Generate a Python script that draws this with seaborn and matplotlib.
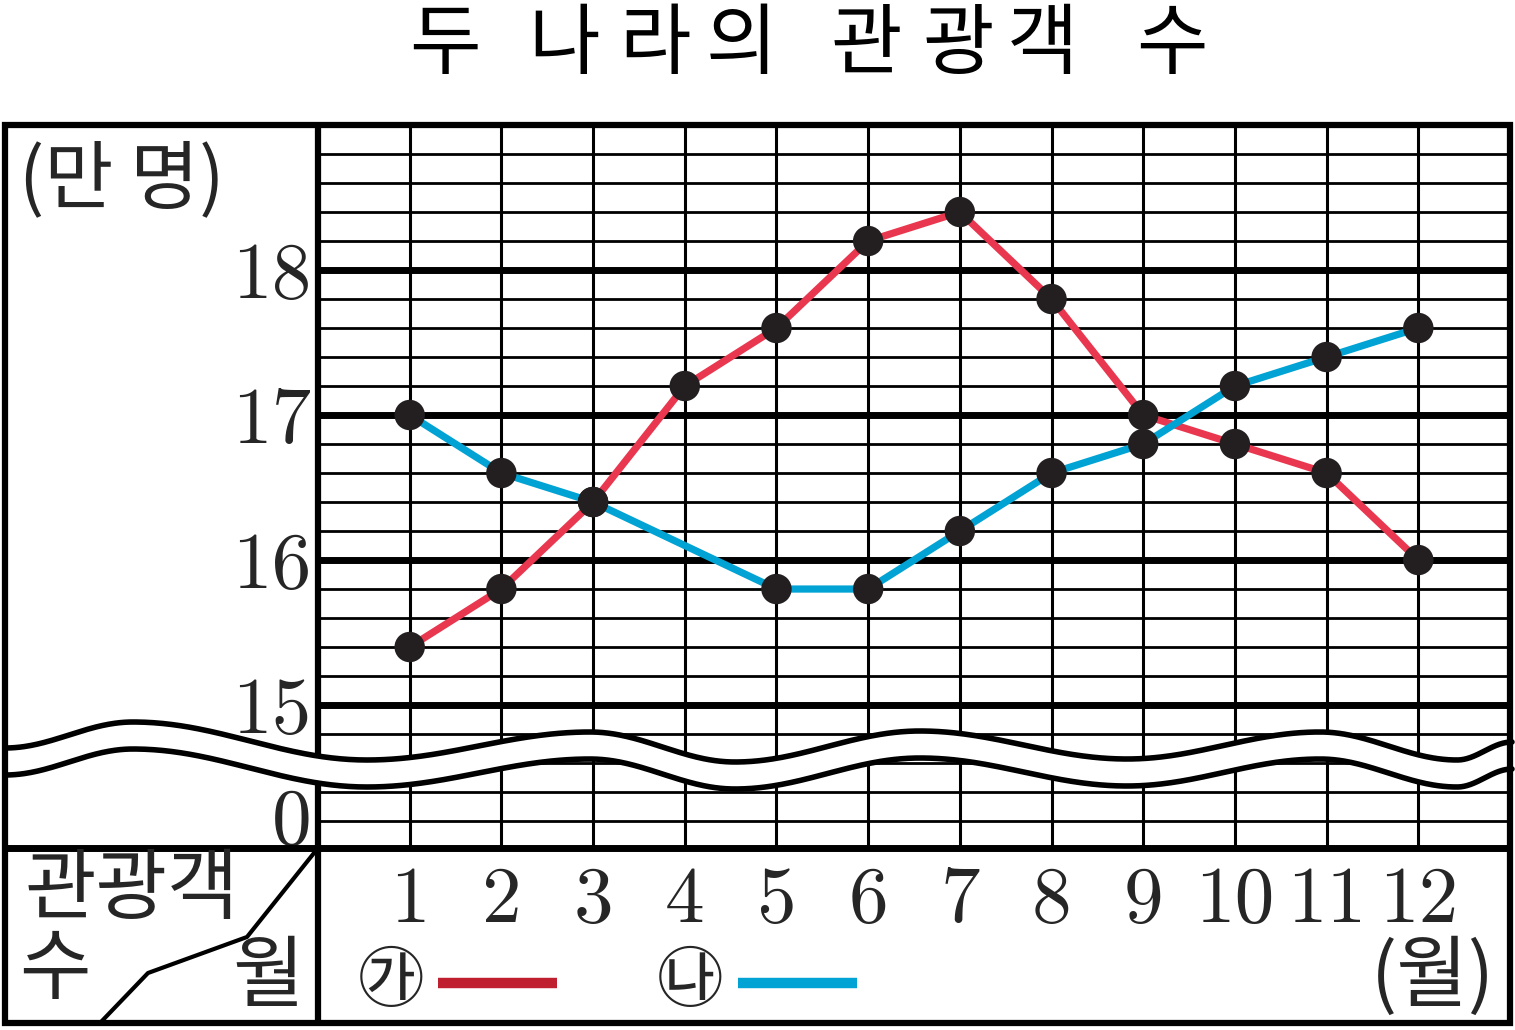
import numpy as np
import pandas as pd
import matplotlib
matplotlib.use("Agg")
import matplotlib.pyplot as plt
import seaborn as sns

# ---------------- data ----------------
title_chars = ["두", "나", "라", "의", "관", "광", "객", "수"]
months = [1, 2, 3, 4, 5, 6, 7, 8, 9, 10, 11, 12]
month_labels = ["1", "2", "3", "4", "5", "6", "7", "8", "9", "10", "11", "12"]
series_ga = [15.4, 15.8, 16.4, 17.2, 17.6, 18.2, 18.4, 17.8, 17.0, 16.8, 16.6, 16.0]
series_na = [17.0, 16.6, 16.4, np.nan, 15.8, 15.8, 16.2, 16.6, 16.8, 17.2, 17.4, 17.6]
series_names = ["가", "나"]
legend_marks = ["㉮", "㉯"]
ytick_values = [14.235, 15, 16, 17, 18]
ytick_labels = ["0", "15", "16", "17", "18"]
unit_label = "(만 명)"
x_unit_label = "(월)"
corner_top = "관광객"
corner_left = "수"
corner_right = "월"

RED = "#E8374F"
BLUE = "#00A3D3"
LEG_RED = "#C01F2F"
LEG_BLUE = "#00A3D3"
DOT = "#231F20"

sns.set_theme(style="white")
plt.rcParams["font.family"] = ["Noto Sans CJK KR", "DejaVu Sans"]

W, H = 1515, 1030
fig = plt.figure(figsize=(W / 100, H / 100), dpi=100)
fig.patch.set_facecolor("white")

# plot area in pixels
L, R, T, B = 318, 1510, 125, 847
ax = fig.add_axes([L / W, 1 - B / H, (R - L) / W, (B - T) / H])
ax.set_xlim(0, 13)
ax.set_ylim(14.021, 19.0)
ax.set_facecolor("white")
for s in ax.spines.values():
    s.set_visible(False)

# grid
for v in np.arange(14.2, 18.95, 0.2):
    rv = round(v)
    thick = abs(v - rv) < 1e-6 and 15 <= rv <= 18
    ax.axhline(v, color="black", lw=5.0 if thick else 2.0, zorder=1)
for m in months:
    ax.axvline(m, color="black", lw=2.2, zorder=1)

df = pd.DataFrame({
    "month": months * 2,
    "value": series_ga + series_na,
    "country": [series_names[0]] * 12 + [series_names[1]] * 12,
}).dropna()

sns.lineplot(data=df, x="month", y="value", hue="country",
             hue_order=series_names,
             palette={series_names[0]: RED, series_names[1]: BLUE},
             lw=5.2, legend=False, ax=ax, zorder=3, estimator=None)
sns.scatterplot(data=df, x="month", y="value", color=DOT, s=480,
                edgecolor="none", linewidth=0, ax=ax, zorder=4, legend=False)

ax.set_xlabel("")
ax.set_ylabel("")
ax.set_xticks(months, month_labels, fontfamily="cmr10", fontsize=57)
ax.tick_params(axis="x", length=0, pad=14)
ax.set_yticks(ytick_values, ytick_labels, fontfamily="cmr10", fontsize=57)
ax.tick_params(axis="y", length=0, pad=5)

# --------------- overlay (frame, wave, labels) ---------------
ov = fig.add_axes([0, 0, 1, 1], zorder=5)
ov.set_xlim(0, W)
ov.set_ylim(H, 0)
ov.axis("off")
ov.patch.set_alpha(0)

# separators
ov.plot([318, 318], [125, 1023], lw=4.5, color="black", zorder=1, solid_capstyle="butt")
ov.plot([5, 1510], [848, 848], lw=5, color="black", zorder=1, solid_capstyle="butt")

# wave break
wave_pts = [(5, 748), (133, 722), (367, 760), (590, 732), (735, 762), (920, 731),
            (1127, 759), (1320, 732), (1457, 760), (1512, 742)]
xs_all, ys_all = [], []
for (x0, y0), (x1, y1) in zip(wave_pts[:-1], wave_pts[1:]):
    t = np.linspace(0, 1, 80)
    xs_all.append(x0 + (x1 - x0) * t)
    ys_all.append(y0 + (y1 - y0) * (1 - np.cos(np.pi * t)) / 2)
wx = np.concatenate(xs_all)
wy = np.concatenate(ys_all)
ov.fill_between(wx, wy, wy + 27, color="white", zorder=2, lw=0)
ov.plot(wx, wy, lw=4.0, color="black", zorder=3)
ov.plot(wx, wy + 27, lw=4.0, color="black", zorder=3)

# outer frame
ov.add_patch(plt.Rectangle((5, 125), 1505, 898, fill=False, lw=4.5,
                           edgecolor="black", zorder=4))

# corner diagonal
ov.plot([318, 247, 148, 100], [848, 937, 973, 1023], lw=3, color="black", zorder=3)

# title
title_x = [445, 564, 655, 741, 866, 958, 1043, 1172]
for ch, x in zip(title_chars, title_x):
    ov.text(x, 46, ch, fontsize=56, ha="center", va="center", color="black")

ov.text(122, 181, unit_label, fontsize=54, ha="center", va="center")
ov.text(132, 891, corner_top, fontsize=56, ha="center", va="center")
ov.text(55, 971, corner_left, fontsize=56, ha="center", va="center")
ov.text(268, 978, corner_right, fontsize=56, ha="center", va="center")
ov.text(1433, 978, x_unit_label, fontsize=56, ha="center", va="center")

# legend
ov.text(391, 983, legend_marks[0], fontsize=48, ha="center", va="center")
ov.plot([438, 557], [983, 983], lw=7.5, color=LEG_RED, solid_capstyle="butt")
ov.text(690, 983, legend_marks[1], fontsize=48, ha="center", va="center")
ov.plot([738, 857], [983, 983], lw=7.5, color=LEG_BLUE, solid_capstyle="butt")

fig.savefig("out.png", dpi=100, facecolor="white")
